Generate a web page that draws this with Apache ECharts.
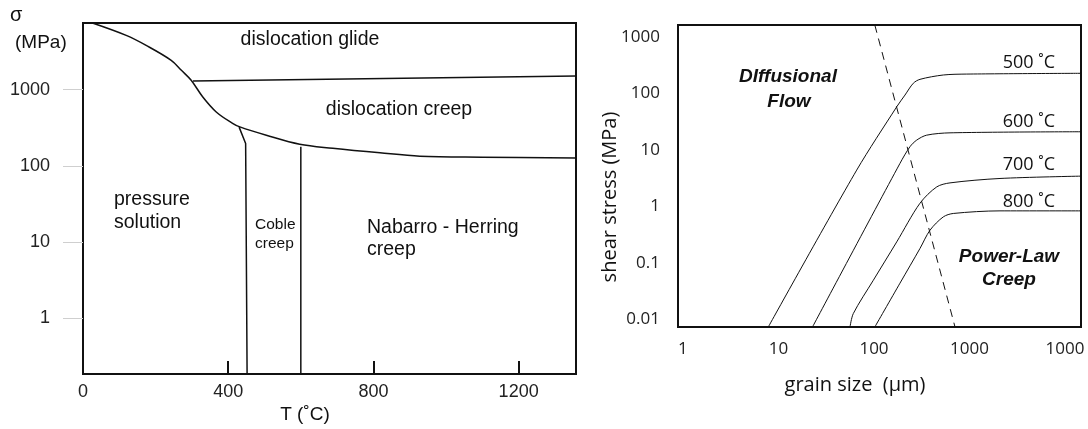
<!DOCTYPE html>
<html>
<head>
<meta charset="utf-8">
<script src="https://cdn.jsdelivr.net/npm/echarts@6/dist/echarts.min.js"></script>
<style>
  html, body { margin: 0; padding: 0; background: #fff; }
  #chart { width: 1088px; height: 429px; }
</style>
</head>
<body>
<div id="chart"></div>
<script>
// left map: temperature (°C) vs stress (MPa)
const leftTempTicks = [0, 400, 800, 1200]
const leftStressTicks = [1, 10, 100, 1000]
const upperBoundary = [[26, 7470], [119, 5140], [174, 3800], [243, 2420], [271, 1790], [298, 1325], [330, 800], [367, 509], [412, 361], [432, 324], [505, 252], [597, 192], [688, 170], [818, 148], [928, 134], [1100, 130], [1358, 127]]
const glideBoundary = [[303, 1297], [1358, 1507]]
const cobleLeft = [[430, 322], [448, 196], [452, 0.186]]
const cobleRight = [[600, 178], [600, 0.186]]

// right map: grain size (µm) vs shear stress (MPa)
const grainTicks = [1, 10, 100, 1000, 10000]
const grainTickLabels = ['1', '10', '100', '1000', '1000']
const shearTicks = [0.01, 0.1, 1, 10, 100, 1000]
const shearTickLabels = ['0.01', '0.1', '1', '10', '100', '1000']
const curve500 = [[7.82, 0.0073], [65.9, 4.36], [173, 57.5], [211, 92.7], [258, 150], [303, 176], [532, 210], [935, 218], [14700, 225]]
const curve600 = [[22.7, 0.0073], [187, 5.73], [238, 11.3], [280, 14.8], [356, 18.1], [625, 19.9], [14700, 20.8]]
const curve700 = [[56.1, 0.0073], [60.7, 0.0126], [98.4, 0.049], [173, 0.234], [303, 1.13], [454, 2.2], [625, 2.59], [2085, 3.1], [14700, 3.41]]
const curve800 = [[102, 0.0073], [187, 0.0435], [303, 0.179], [386, 0.377], [532, 0.649], [677, 0.745], [2085, 0.828], [14700, 0.828]]
const fieldBoundary = [[102, 1610], [705, 0.0073]]

const SANS = '"Liberation Sans", Arial, sans-serif'
const OPEN = '"Open Sans", sans-serif'

function txt(x, y, text, font, align, rotation) {
  return {
    type: 'text',
    x: x,
    y: y,
    rotation: rotation || 0,
    style: {
      text: text,
      font: font,
      textAlign: align || 'left',
      textVerticalAlign: 'middle',
      fill: '#111',
    },
  }
}

function line(data, x, y, opts) {
  return Object.assign({
    type: 'line',
    xAxisIndex: x,
    yAxisIndex: y,
    data: data,
    showSymbol: false,
    symbol: 'none',
    silent: true,
    animation: false,
    lineStyle: { color: '#111', width: 1.5 },
  }, opts || {})
}

const chart = echarts.init(document.getElementById('chart'))
const option = {
  backgroundColor: '#fff',
  animation: false,
  grid: [
    { left: 83, top: 23, width: 493, height: 351, show: true, borderColor: '#111', borderWidth: 2, backgroundColor: 'transparent' },
    { left: 678, top: 25, width: 403, height: 302, show: true, borderColor: '#111', borderWidth: 2, backgroundColor: 'transparent' },
  ],
  xAxis: [
    {
      gridIndex: 0,
      type: 'value',
      min: 0,
      max: 1358,
      interval: 400,
      axisLine: { show: false },
      splitLine: { show: false },
      axisTick: { inside: true, length: 13, lineStyle: { color: '#111', width: 2 } },
      axisLabel: {
        customValues: leftTempTicks,
        margin: 9,
        fontFamily: SANS,
        fontSize: 18,
        color: '#222',
        formatter: (v) => String(v),
      },
    },
    {
      gridIndex: 1,
      type: 'log',
      logBase: 10,
      min: 0.887,
      max: 14700,
      axisLine: { show: false },
      splitLine: { show: false },
      axisTick: { show: false },
      axisLabel: {
        customValues: grainTicks,
        margin: 14,
        fontFamily: OPEN,
        fontSize: 17,
        color: '#222',
        formatter: (v) => grainTickLabels[grainTicks.indexOf(v)] || '',
      },
    },
  ],
  yAxis: [
    {
      gridIndex: 0,
      type: 'log',
      logBase: 10,
      min: 0.186,
      max: 7470,
      axisLine: { show: false },
      splitLine: { show: false },
      axisTick: { customValues: leftStressTicks, length: 20, lineStyle: { color: '#cfcfcf', width: 1 } },
      axisLabel: {
        customValues: leftStressTicks,
        margin: 33,
        fontFamily: SANS,
        fontSize: 18,
        color: '#222',
        formatter: (v) => String(v),
      },
    },
    {
      gridIndex: 1,
      type: 'log',
      logBase: 10,
      min: 0.0073,
      max: 1610,
      axisLine: { show: false },
      splitLine: { show: false },
      axisTick: { show: false },
      axisLabel: {
        customValues: shearTicks,
        margin: 18,
        fontFamily: OPEN,
        fontSize: 17,
        color: '#222',
        formatter: (v) => shearTickLabels[shearTicks.indexOf(v)] || '',
      },
    },
  ],
  series: [
    line(upperBoundary, 0, 0, { smooth: 0.35 }),
    line(glideBoundary, 0, 0),
    line(cobleLeft, 0, 0),
    line(cobleRight, 0, 0),
    line(curve500, 1, 1, { smooth: 0.3, lineStyle: { color: '#111', width: 1 } }),
    line(curve600, 1, 1, { smooth: 0.3, lineStyle: { color: '#111', width: 1 } }),
    line(curve700, 1, 1, { smooth: 0.3, lineStyle: { color: '#111', width: 1 } }),
    line(curve800, 1, 1, { smooth: 0.3, lineStyle: { color: '#111', width: 1 } }),
    line(fieldBoundary, 1, 1, { lineStyle: { color: '#111', width: 1, type: [8, 6] } }),
  ],
  graphic: [
    // left map texts
    txt(10, 15, 'σ', '20px ' + SANS),
    txt(15, 43, '(MPa)', '19px ' + SANS),
    txt(305, 415, 'T (˚C)', '19px ' + SANS, 'center'),
    txt(310, 40, 'dislocation glide', '19.5px ' + SANS, 'center'),
    txt(399, 110, 'dislocation creep', '19.5px ' + SANS, 'center'),
    txt(114, 200, 'pressure', '19.5px ' + SANS),
    txt(114, 223, 'solution', '19.5px ' + SANS),
    txt(255, 225, 'Coble', '15.5px ' + SANS),
    txt(255, 244, 'creep', '15.5px ' + SANS),
    txt(367, 228, 'Nabarro - Herring', '19.5px ' + SANS),
    txt(367, 250, 'creep', '19.5px ' + SANS),
    // right map texts
    txt(610, 197, 'shear stress (MPa)', '20px ' + OPEN, 'center', Math.PI / 2),
    txt(855, 385, 'grain size  (µm)', '20px ' + OPEN, 'center'),
    txt(788, 77, 'DIffusional', 'italic bold 19px ' + SANS, 'center'),
    txt(789, 102, 'Flow', 'italic bold 19px ' + SANS, 'center'),
    txt(1009, 257, 'Power-Law', 'italic bold 19px ' + SANS, 'center'),
    txt(1009, 280, 'Creep', 'italic bold 19px ' + SANS, 'center'),
    txt(1055, 63, '500 ˚C', '18px ' + OPEN, 'right'),
    txt(1055, 122, '600 ˚C', '18px ' + OPEN, 'right'),
    txt(1055, 165, '700 ˚C', '18px ' + OPEN, 'right'),
    txt(1055, 202, '800 ˚C', '18px ' + OPEN, 'right'),
  ],
}
chart.setOption(option)
</script>
</body>
</html>
